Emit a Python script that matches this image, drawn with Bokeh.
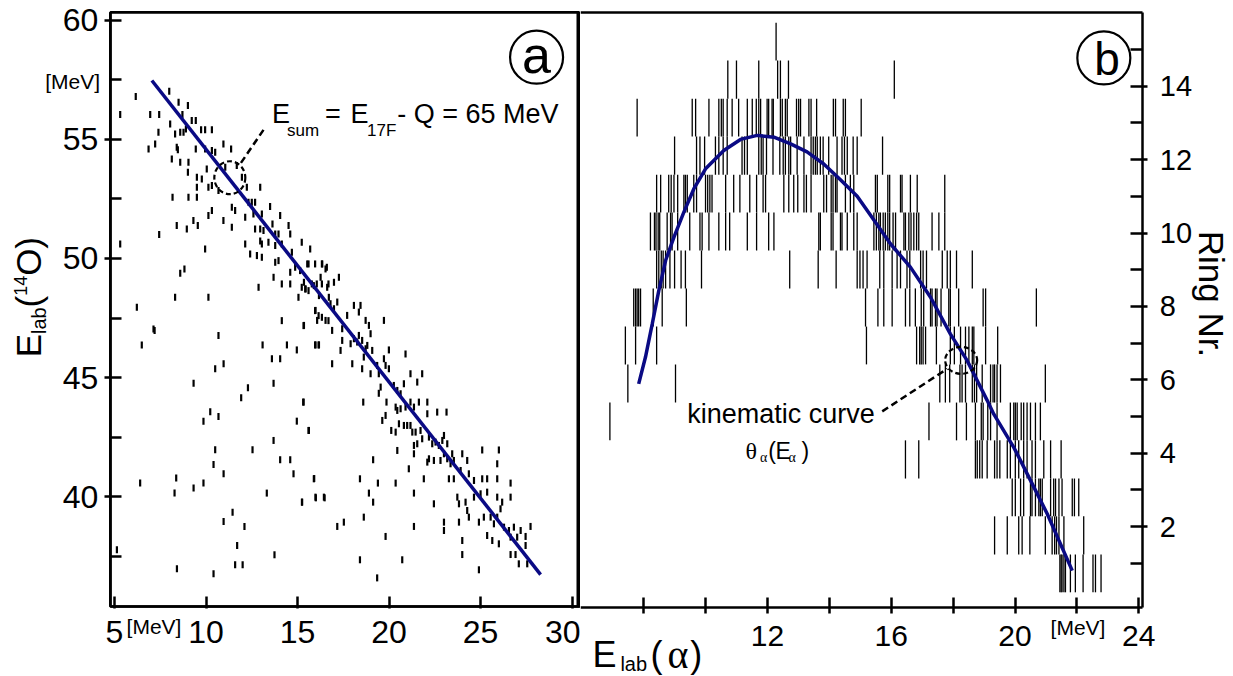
from bokeh.plotting import figure
from bokeh.layouts import row
from bokeh.models import FixedTicker, Label, Range1d, BoxAnnotation, LinearAxis
from bokeh.embed import file_html
from bokeh.resources import INLINE

FONT = "Liberation Sans"
SERIF = "Liberation Serif"
NAVY = "#0a0a84"

# ---------------- panel (a): E_lab(14O) vs E_lab(alpha) ----------------
a_x_ticks = [5, 10, 15, 20, 25, 30]
a_y_ticks = [40, 45, 50, 55, 60]
a_y_minor = [37.5, 42.5, 47.5, 52.5, 57.5]
a_xlim = (4.77, 30.46)
a_ylim = (35.39, 60.33)

ea = [6.16, 5.31, 6.95, 7.44, 7.99, 8.50, 9.01, 8.71, 7.40, 8.04, 8.31, 8.59, 8.77, 8.90, 9.22, 9.44, 9.73,
      9.95, 10.32, 6.86, 7.22, 8.40, 8.46, 9.44, 9.95, 10.32, 10.50, 10.95, 11.37, 8.13, 8.59, 9.04, 9.01,
      9.50, 9.77, 10.04, 9.50, 10.13, 10.32, 10.68, 11.05, 11.68, 11.96, 12.23, 12.96, 8.17, 9.04, 9.50,
      10.13, 10.32, 10.95, 11.41, 11.59, 12.14, 12.32, 12.50, 12.68, 12.59, 13.05, 13.50, 14.05, 8.40,
      9.31, 9.55, 8.95, 9.95, 11.41, 12.14, 12.68, 12.96, 13.14, 13.63, 13.78, 13.96, 14.51, 14.60, 7.44,
      5.31, 12.96, 13.05, 13.41, 13.78, 14.14, 14.69, 15.23, 15.69, 12.41, 12.78, 13.05, 13.78, 13.96,
      14.60, 14.87, 15.14, 15.60, 15.96, 16.33, 16.60, 8.59, 8.82, 13.69, 14.14, 14.60, 15.23, 15.42,
      15.60, 15.78, 16.05, 16.33, 16.69, 12.87, 15.05, 8.31, 10.13, 6.22, 15.96, 16.15, 16.33, 14.14,
      15.33, 16.69, 7.13,
      15.53, 16.35, 16.53, 15.44, 15.35, 15.89, 16.26, 16.62, 16.99, 17.26, 16.17, 16.71, 16.80, 16.99,
      17.17, 18.08, 18.44, 18.35, 15.98, 16.07, 16.53, 17.71, 18.72, 18.90, 18.99, 19.72, 15.35, 16.89,
      17.44, 17.44, 17.90, 18.08, 18.26, 18.35, 18.53, 18.72, 18.81, 19.08, 19.99, 15.98, 16.17, 17.35,
      16.89, 17.99, 18.53, 18.62, 19.35, 19.72, 19.81, 19.99, 20.90, 18.99, 19.44, 19.54, 20.26, 20.45,
      20.63, 20.81, 21.17, 21.54, 21.81, 15.31, 18.59, 19.44, 19.86, 20.36, 20.45, 20.63, 20.90, 21.17,
      21.36, 21.63, 22.09, 22.63, 23.14, 22.09, 19.63, 19.81, 20.12, 20.36, 20.54, 20.81, 20.99, 21.17,
      21.27, 21.45, 21.72, 21.81, 21.36, 21.54, 22.18, 22.36, 22.54, 22.72, 22.91, 23.00, 23.18, 23.45,
      15.62, 19.13, 20.45, 21.36, 22.09, 22.18, 22.45, 22.81, 23.00, 23.18, 23.36, 23.54, 24.00, 24.27,
      25.09, 26.00, 21.90, 21.08, 15.89, 18.41, 19.39, 20.36, 23.27, 23.54, 23.91, 24.36, 24.64, 25.09,
      25.36, 25.91, 25.91, 26.64, 15.25, 15.98, 16.44, 18.90, 19.13, 21.36, 22.45, 23.73, 23.82, 24.18,
      24.64, 25.00, 25.36, 25.91, 26.18, 26.64, 18.62, 17.53, 17.17, 21.36, 23.00, 23.00, 23.82, 24.27,
      24.36, 24.91, 25.18, 25.55, 25.91, 26.09, 25.73, 26.28, 26.55, 26.82, 27.19, 27.73, 19.81, 24.00,
      25.36, 25.64, 26.00, 26.64, 27.00, 27.46, 27.46, 18.41, 20.72, 24.00, 26.64, 26.91, 27.09, 27.55,
      24.91, 19.35,
      7.19, 10.68, 6.49, 13.09, 14.42, 14.96, 15.96, 16.15, 13.60, 14.05, 10.96, 10.50, 9.32, 12.29,
      13.69, 11.92, 15.33, 10.23, 9.86, 10.68, 14.96, 15.60, 13.69, 10.50, 12.54, 14.05, 14.60, 10.41,
      10.96, 14.78, 6.40, 8.37, 8.28, 9.32, 9.86, 13.32, 15.24, 15.91, 16.00, 16.48, 11.45, 10.96, 12.10,
      5.13, 11.70, 13.74, 8.41, 10.41, 11.59, 12.00]
eo = [56.80, 56.04, 56.04, 56.04, 57.02, 56.56, 56.42, 56.04, 55.30, 55.65, 55.23, 55.30, 55.30, 55.44,
      55.79, 55.79, 55.40, 55.40, 55.40, 54.60, 54.81, 54.67, 54.56, 54.60, 54.60, 54.53, 54.46, 54.81,
      54.60, 54.18, 54.04, 54.04, 53.62, 53.41, 53.34, 53.76, 52.99, 52.99, 53.06, 52.85, 53.83, 53.90,
      53.41, 52.99, 52.99, 52.57, 52.57, 52.57, 51.80, 52.01, 51.59, 52.15, 52.01, 51.73, 52.36, 52.36,
      52.36, 51.87, 51.87, 52.18, 51.80, 51.38, 51.59, 51.38, 51.24, 50.40, 51.31, 50.61, 51.24, 51.24,
      51.17, 51.45, 51.03, 51.03, 51.38, 51.03, 51.01, 50.61, 50.73, 50.61, 50.68, 50.54, 50.61, 50.26,
      50.68, 50.40, 50.19, 50.12, 50.05, 49.84, 49.91, 49.42, 49.63, 49.49, 49.77, 49.77, 49.77, 49.63,
      49.38, 49.56, 49.21, 48.93, 48.93, 48.79, 48.72, 48.65, 48.93, 48.93, 48.93, 48.93, 48.79, 48.37,
      48.37, 48.37, 47.95, 47.81, 47.60, 47.53, 47.39, 47.18, 47.39, 47.04,
      49.77, 49.77, 49.56, 48.72, 49.00, 48.86, 49.21, 48.79, 49.00, 49.21, 48.44, 48.37, 48.10, 47.89,
      48.17, 48.03, 48.03, 47.75, 47.82, 47.40, 47.40, 47.61, 47.40, 47.19, 46.84, 47.40, 47.19, 46.98,
      47.05, 46.56, 46.42, 46.63, 46.49, 46.77, 46.56, 46.21, 46.35, 46.14, 46.16, 46.37, 46.37, 46.14,
      45.58, 45.58, 45.37, 45.86, 45.51, 45.79, 45.51, 45.37, 45.99, 45.16, 45.16, 44.60, 44.67, 44.46,
      44.32, 44.74, 45.16, 44.81, 45.16, 43.97, 43.97, 44.34, 43.97, 43.76, 43.62, 43.69, 43.76, 43.97,
      43.76, 43.97, 43.97, 43.55, 43.55, 43.48, 43.20, 43.41, 42.78, 42.71, 43.06, 42.99, 42.99, 42.99,
      42.71, 42.71, 42.78, 42.43, 42.15, 42.22, 42.50, 42.22, 42.29, 42.15, 42.36, 42.57, 42.22, 41.80,
      42.78, 41.55, 41.94, 41.80, 41.45, 41.59, 41.52, 41.52, 41.80, 41.59, 41.38, 41.52, 41.80, 41.52,
      41.96, 41.96, 40.75, 41.17, 40.75, 40.75, 40.57, 40.57, 40.75, 40.75, 41.10, 40.96, 40.68, 40.75,
      40.75, 40.75, 41.38, 40.57, 39.77, 39.98, 39.98, 40.15, 39.77, 40.15, 39.70, 39.98, 39.70, 39.77,
      39.98, 40.12, 40.19, 39.98, 39.77, 39.98, 39.14, 38.93, 38.75, 38.75, 38.93, 38.58, 38.93, 39.42,
      39.14, 38.93, 39.14, 39.14, 39.14, 39.49, 38.86, 38.72, 38.58, 38.72, 38.58, 38.75, 38.33, 38.16,
      38.37, 38.16, 38.02, 38.30, 38.30, 38.33, 37.95, 37.35, 37.35, 37.57, 37.57, 37.57, 37.18, 37.18,
      36.93, 36.59,
      46.98, 46.77, 46.37, 46.37, 46.37, 46.16, 46.37, 46.37, 45.79, 45.79, 45.58, 45.37, 44.76, 44.57,
      44.76, 44.15, 43.97, 43.57, 43.17, 43.37, 43.17, 42.78, 42.36, 41.97, 41.97, 41.55, 41.55, 41.35,
      40.96, 40.96, 40.57, 40.78, 40.15, 40.36, 40.57, 40.15, 39.77, 40.76, 39.95, 39.95, 39.35, 38.96,
      38.75, 37.77, 37.95, 37.56, 36.97, 36.76, 37.14, 37.14]

esum_line_x = [7.04, 28.28]
esum_line_y = [57.47, 36.73]

# ---------------- panel (b): ring number vs E_lab(alpha) ----------------
b_x_ticks = [12, 16, 20, 24]            # labelled ticks
b_x_unlabelled = [8, 10, 14, 18, 22]    # same-size ticks without labels
b_y_ticks = [2, 4, 6, 8, 10, 12, 14]
b_y_minor = [1, 3, 5, 7, 9, 11, 13, 15]
b_xlim = (5.96, 24.13)
b_ylim = (-0.204, 16.0)

ring_edges = [0.21, 1.24, 2.28, 3.31, 4.35, 5.38, 6.42, 7.45, 8.49, 9.52, 10.56, 11.59, 12.63, 13.66,
              14.70, 15.73]

ring01 = [21.45, 21.49, 21.52, 21.58, 21.63, 21.79, 21.95, 22.2, 22.52, 22.6, 22.78]
ring02 = [19.34, 19.75, 20.12, 20.23, 20.48, 20.98, 21.2, 21.28, 21.34, 21.42, 21.58, 22.22]
ring03 = [19.91, 20.01, 20.18, 20.28, 20.5, 20.55, 20.66, 20.77, 20.82, 20.88, 21.15, 21.25, 21.31,
          21.42, 21.52, 21.85, 21.92, 22.06]
ring04 = [16.46, 16.89, 18.72, 18.78, 18.86, 18.94, 19.1, 19.34, 19.42, 19.51, 19.75, 19.85, 20.01,
          20.12, 20.28, 20.39, 20.55, 20.66, 20.93, 21.15, 21.49]
ring05 = [6.91, 17.22, 18.11, 18.43, 18.72, 18.91, 18.97, 19.12, 19.21, 19.42, 19.85, 19.96, 20.01,
          20.07, 20.2, 20.28, 20.39, 20.5, 20.66, 20.82]
ring06 = [7.49, 9.03, 17.57, 17.75, 17.89, 18.22, 18.29, 18.4, 18.62, 18.69, 18.76, 18.94, 19.21,
          19.29, 19.34, 19.42, 19.53, 20.98]
ring07 = [7.41, 7.74, 8.42, 15.2, 16.82, 16.92, 16.97, 17.03, 17.11, 17.46, 17.91, 18.04, 18.24, 18.4,
          18.51, 18.62, 18.67, 19.05, 19.44]
ring08 = [7.68, 7.74, 7.79, 7.84, 7.9, 8.31, 8.6, 9.38, 15.17, 15.57, 15.76, 16.03, 16.46, 16.6, 16.78,
          16.97, 17.05, 17.27, 17.32, 17.43, 17.48, 17.61, 17.86, 17.91, 18.18, 18.97, 19.05, 20.69]
ring09 = [8.42, 8.49, 8.57, 8.63, 8.71, 8.85, 9.0, 9.21, 9.35, 9.87, 12.72, 13.64, 14.22, 14.9, 14.99,
          15.09, 15.22, 15.63, 15.76, 16.03, 16.19, 16.3, 16.51, 16.6, 16.95, 17.03, 17.14, 17.65, 17.81,
          17.91, 18.11, 18.62]
ring10 = [8.22, 8.35, 8.4, 8.47, 8.52, 8.76, 8.87, 8.92, 9.1, 9.49, 9.82, 9.89, 10.11, 10.43, 10.65,
          10.78, 11.35, 11.65, 12.04, 12.21, 13.66, 13.71, 14.06, 14.12, 14.36, 14.41, 14.58, 14.79, 14.9,
          15.44, 15.52, 15.6, 15.65, 15.74, 15.81, 15.89, 15.95, 16.06, 16.14, 16.41, 16.46, 16.57, 16.64,
          16.73, 16.82, 16.89, 17.32, 17.54, 17.73]
ring11 = [8.42, 8.55, 8.81, 8.89, 8.98, 9.1, 9.3, 9.35, 9.41, 9.62, 9.71, 10.0, 10.07, 10.14, 10.21,
          10.65, 10.91, 11.11, 11.43, 11.65, 11.86, 11.94, 12.53, 12.69, 12.85, 12.98, 13.18, 13.26, 13.41,
          13.82, 13.91, 14.06, 14.12, 14.2, 14.25, 14.52, 14.68, 14.79, 15.49, 15.55, 15.89, 15.95, 16.3,
          16.35, 16.62, 16.84, 17.73]
ring12 = [9.0, 9.71, 9.82, 9.97, 10.32, 10.43, 10.57, 10.7, 11.18, 11.26, 11.35, 11.72, 11.8, 11.86,
          11.97, 12.18, 12.4, 12.51, 12.58, 12.69, 12.75, 12.96, 13.18, 13.41, 13.48, 13.55, 13.61, 13.71,
          13.8, 13.98, 14.25, 14.41, 14.49, 14.58, 14.77, 14.9, 15.72]
ring13 = [7.79, 9.57, 9.68, 10.11, 10.43, 10.51, 10.57, 10.7, 10.86, 11.07, 11.35, 11.51, 11.64, 11.72,
          11.78, 11.99, 12.04, 12.15, 12.19, 12.42, 12.48, 12.58, 12.64, 12.94, 13.01, 13.07, 13.34, 13.41,
          13.59, 14.13, 14.2, 14.45, 14.52, 15.03]
ring14 = [10.72, 11.0, 11.72, 12.33, 12.42, 12.68, 16.1]
ring15 = [12.28]
rings = [ring01, ring02, ring03, ring04, ring05, ring06, ring07, ring08, ring09, ring10, ring11, ring12,
         ring13, ring14, ring15]

kin_E = [7.84, 8.06, 8.28, 8.49, 8.71, 8.98, 9.3, 9.62, 10.0, 10.59, 11.13, 11.67, 12.21, 12.75, 13.28,
         13.82, 14.36, 14.9, 15.4, 15.98, 16.62, 17.27, 17.91, 18.45, 19.1, 19.31, 19.96, 20.5, 21.04,
         21.42, 21.85]
kin_R = [5.89, 6.62, 7.53, 8.43, 9.25, 9.89, 10.57, 11.2, 11.75, 12.25, 12.55, 12.66, 12.61, 12.43,
         12.21, 11.88, 11.45, 11.0, 10.4, 9.7, 9.07, 8.25, 7.25, 6.53, 5.44, 5.07, 4.16, 3.26, 2.35,
         1.62, 0.8]


def style_axis(ax, size):
    ax.axis_line_width = 2.5
    ax.axis_line_color = "black"
    ax.major_tick_line_width = 2.5
    ax.minor_tick_line_width = 2.5
    ax.major_tick_line_color = "black"
    ax.minor_tick_line_color = "black"
    ax.major_label_text_font = FONT
    ax.major_label_text_font_size = size
    ax.major_label_text_color = "black"


def bare_line_axis(location, bounds, width):
    # an axis used only for its line (panel borders): no ticks, hence no labels
    return LinearAxis(fixed_location=location, bounds=bounds, ticker=FixedTicker(ticks=[]),
                      axis_line_width=width, axis_line_color="black", major_tick_line_color=None,
                      minor_tick_line_color=None)


def lab(p, x, y, text, size, font=FONT, align="left", angle=0.0):
    p.add_layout(Label(x=x, y=y, text=text, text_font=font, text_font_size=size,
                       text_align=align, text_baseline="alphabetic", angle=angle, text_color="black"))


# ------------------------------- figure a -------------------------------
pa = figure(width=580, height=676, x_range=Range1d(-1.23, 30.46), y_range=Range1d(32.45, 60.83),
            output_backend="svg", toolbar_location=None,
            min_border_left=0, min_border_right=0, min_border_top=0, min_border_bottom=0)
pa.grid.visible = False
pa.outline_line_color = None

ax = pa.below[0]
ax.ticker = FixedTicker(ticks=a_x_ticks)
style_axis(ax, "32px")
ax.fixed_location = a_ylim[0]
ax.bounds = a_xlim
ax.major_tick_in = 10
ax.major_tick_out = 2
ax.minor_tick_line_color = None
ax.major_label_standoff = 13

ax = pa.left[0]
ax.ticker = FixedTicker(ticks=a_y_ticks, minor_ticks=a_y_minor)
style_axis(ax, "32px")
ax.fixed_location = a_xlim[0]
ax.bounds = a_ylim
ax.major_tick_in = 11
ax.major_tick_out = 6
ax.minor_tick_in = 11
ax.minor_tick_out = 0
ax.major_label_standoff = 6

pa.add_layout(BoxAnnotation(left=a_xlim[0], right=a_xlim[1] - 0.07, bottom=a_ylim[0], top=a_ylim[1],
                            fill_color=None, fill_alpha=0, line_color="black", line_alpha=1.0,
                            line_width=2.6))
# thick divider between the two panels
pa.add_layout(bare_line_axis(30.37, a_ylim, 4.0), "right")

pa.rect(x=ea, y=eo, width=2.2, height=7, width_units="screen", height_units="screen",
        fill_color="black", line_color=None)
pa.line(esum_line_x, esum_line_y, line_color=NAVY, line_width=3.5)

# dashed marker circle and leader
pa.ellipse(x=[11.30], y=[53.39], width=31, height=33, width_units="screen", height_units="screen",
           fill_color=None, line_color="black", line_width=2.2, line_dash="5 3")
pa.line([13.14, 11.87], [55.40, 53.97], line_color="black", line_width=2.5, line_dash="7 4")

# annotation E_sum = E_17F - Q = 65 MeV
lab(pa, 13.60, 56.06, "E", "27px")
lab(pa, 14.42, 55.37, "sum", "17px")
lab(pa, 16.50, 56.06, "=", "27px")
lab(pa, 17.90, 56.06, "E", "27px")
lab(pa, 18.80, 55.37, "17F", "17px")
lab(pa, 20.45, 56.06, "- Q = 65 MeV", "27px")

# panel letter a
pa.scatter(x=[28.06], y=[58.45], marker="circle", size=53, fill_color=None, line_color="black",
           line_width=2.2)
lab(pa, 28.06, 58.56, "a", "52px", align="center")

# units
lab(pa, 4.21, 57.44, "[MeV]", "21px", align="right")
lab(pa, 5.66, 34.56, "[MeV]", "21px")

# y title E_lab(14O), reading bottom to top
ang = 1.5707963
lab(pa, 0.32, 45.85, "E", "35px", angle=ang)
lab(pa, 0.89, 46.83, "lab", "20px", angle=ang)
lab(pa, 0.32, 47.94, "(", "35px", angle=ang)
lab(pa, -0.16, 48.43, "14", "18px", angle=ang)
lab(pa, 0.32, 49.27, "O", "35px", angle=ang)
lab(pa, 0.32, 50.41, ")", "35px", angle=ang)

# ------------------------------- figure b -------------------------------
pb = figure(width=653, height=676, x_range=Range1d(5.96, 27.06), y_range=Range1d(-2.084, 16.335),
            y_axis_location="right", output_backend="svg", toolbar_location=None,
            min_border_left=0, min_border_right=0, min_border_top=0, min_border_bottom=0)
pb.grid.visible = False
pb.outline_line_color = None

ax = pb.below[0]
ax.ticker = FixedTicker(ticks=b_x_ticks, minor_ticks=b_x_unlabelled)
style_axis(ax, "30px")
ax.fixed_location = b_ylim[0]
ax.bounds = b_xlim
ax.major_tick_in = 10
ax.major_tick_out = 6
ax.minor_tick_in = 10
ax.minor_tick_out = 6
ax.major_label_standoff = 12

ax = pb.right[0]
ax.ticker = FixedTicker(ticks=b_y_ticks, minor_ticks=b_y_minor)
style_axis(ax, "29px")
ax.fixed_location = b_xlim[1]
ax.bounds = b_ylim
ax.major_tick_in = 12
ax.major_tick_out = 5
ax.minor_tick_in = 12
ax.minor_tick_out = 0
ax.major_label_standoff = 12

# top border of panel (b)
pb.add_layout(bare_line_axis(b_ylim[1], b_xlim, 2.6), "above")

xs, y0s, y1s = [], [], []
for i, evts in enumerate(rings):
    for e in evts:
        xs.append(e)
        y0s.append(ring_edges[i])
        y1s.append(ring_edges[i + 1])
pb.segment(x0=xs, y0=y0s, x1=xs, y1=y1s, line_color="black", line_width=1.3)

pb.line(kin_E, kin_R, line_color=NAVY, line_width=3.5)

pb.ellipse(x=[18.26], y=[6.53], width=32, height=27, width_units="screen", height_units="screen",
           fill_color=None, line_color="black", line_width=2.2, line_dash="5 3")
pb.line([15.71, 17.81], [5.14, 6.30], line_color="black", line_width=2.5, line_dash="7 4")

lab(pb, 12.44, 5.07, "kinematic curve", "27px", align="center")
lab(pb, 11.29, 4.06, "θ", "24px", font=SERIF)
lab(pb, 11.76, 3.87, "α", "14px", font=SERIF)
lab(pb, 12.03, 4.06, "(", "23px")
lab(pb, 12.26, 4.06, "E", "23px")
lab(pb, 12.68, 3.87, "α", "14px", font=SERIF)
lab(pb, 13.10, 4.06, ")", "23px")

pb.scatter(x=[22.87], y=[14.77], marker="circle", size=53, fill_color=None, line_color="black",
           line_width=2.2)
lab(pb, 22.97, 14.74, "b", "46px", align="center")

lab(pb, 21.15, -0.74, "[MeV]", "21px")

# x title E_lab(alpha)
lab(pb, 6.35, -1.48, "E", "36px")
lab(pb, 7.25, -1.74, "lab", "20px")
lab(pb, 8.22, -1.48, "(", "36px")
lab(pb, 8.77, -1.48, "α", "40px", font=SERIF)
lab(pb, 9.51, -1.48, ")", "36px")

# right title, reading top to bottom
lab(pb, 26.36, 8.34, "Ring Nr.", "35px", align="center", angle=-1.5707963)

layout = row(pa, pb)
open("out.html", "w").write(file_html(layout, INLINE))
